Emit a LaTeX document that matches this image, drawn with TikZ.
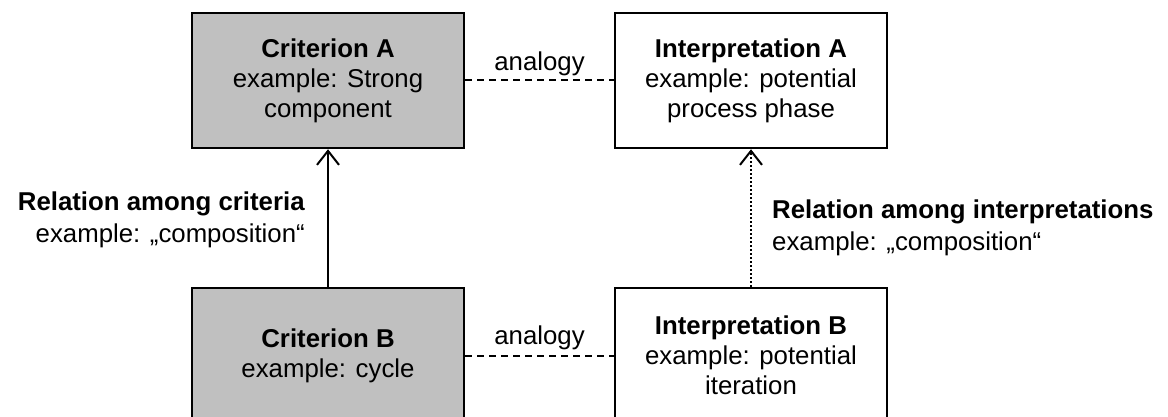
\documentclass[tikz,border=0pt]{standalone}
\usepackage{fontspec}
\setmainfont{Liberation Sans}
\usetikzlibrary{arrows.meta}
\definecolor{critgray}{HTML}{C0C0C0}
\begin{document}
\begin{tikzpicture}[x=1pt, y=-1pt,
  box/.style={draw, line width=2.5pt, minimum width=272pt, minimum height=135pt,
    inner sep=0pt, align=center, font=\fontsize{25.8}{30}\selectfont},
  crit/.style={box, fill=critgray},
  interp/.style={box, fill=white},
  analogyline/.style={line width=2pt, dash pattern=on 7pt off 5pt},
  rel/.style={line width=2pt, -{Straight Barb[length=14pt, width=22pt, line width=2pt]}},
  lbl/.style={font=\fontsize{25.8}{32}\selectfont, inner sep=0pt}]
  \clip (0,0) rectangle (1168,417);

  % criteria (left) and interpretations (right)
  \node[crit] (critA) at (328,80.5) {\textbf{Criterion A}\\example: Strong\\component};
  \node[interp] (interpA) at (751,80.5) {\textbf{Interpretation A}\\example: potential\\process phase};
  \node[crit] (critB) at (328,355.5) {\textbf{Criterion B}\\example: cycle};
  \node[interp] (interpB) at (751,355.5) {\textbf{Interpretation B}\\example: potential\\iteration};

  % analogies between the two columns
  \draw[analogyline] (critA.east) -- node[lbl, above=4pt] (anaA) {analogy} (interpA.west);
  \draw[analogyline] (critB.east) -- node[lbl, above=5pt] (anaB) {analogy} (interpB.west);

  % relations inside each column
  \draw[rel] (critB) -- (critA);
  \draw[rel, dash pattern=on 1.5pt off 2.5pt] (interpB) -- (interpA);

  \node[lbl, align=right, anchor=east] (relcrit) at (305,220)
    {\textbf{Relation among criteria}\\example: „composition“};
  \node[lbl, align=left, anchor=west] (relinterp) at (772,228)
    {\textbf{Relation among interpretations}\\example: „composition“};
\end{tikzpicture}
\end{document}
